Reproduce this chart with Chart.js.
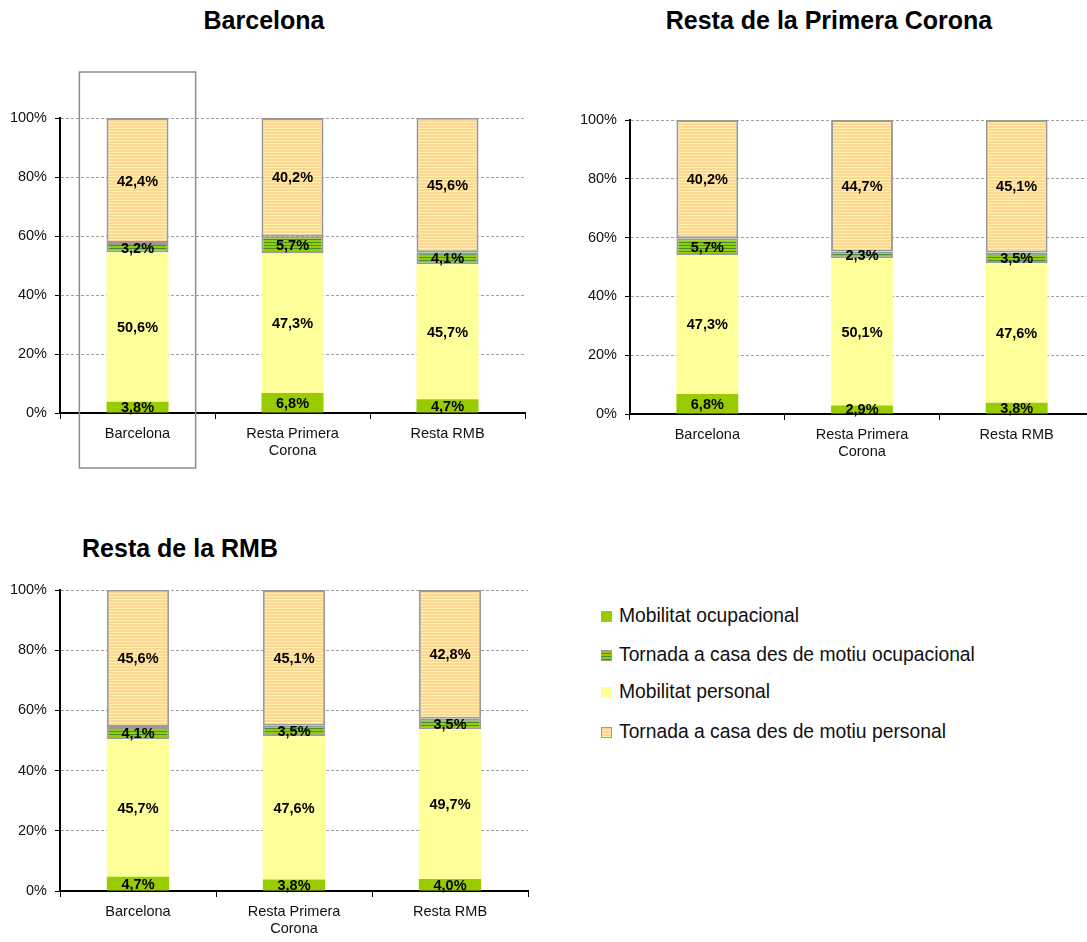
<!DOCTYPE html>
<html>
<head>
<meta charset="utf-8">
<script src="https://cdn.jsdelivr.net/npm/chart.js@4/dist/chart.umd.min.js"></script>
<style>
  html, body { margin:0; padding:0; width:1087px; height:942px; overflow:hidden; background:#fff; font-family:"Liberation Sans", Arial, sans-serif; }
  .box { position:absolute; }
  .title { position:absolute; font-weight:bold; font-size:25px; color:#000; white-space:nowrap; transform:translate(-50%,-50%); }
  .legend { position:absolute; left:601px; top:600px; font-size:19.3px; color:#111; }
  .legend .row { position:absolute; left:0; white-space:nowrap; display:flex; align-items:center; height:24px; }
  .legend .sw { width:11px; height:11px; margin-right:7px; box-sizing:border-box; }
</style>
</head>
<body>
<div class="title" style="left:264px; top:20px;">Barcelona</div>
<div class="title" style="left:829px; top:20px;">Resta de la Primera Corona</div>
<div class="title" style="left:180px; top:548px;">Resta de la RMB</div>

<div class="box" style="left:0px; top:0px; width:540px; height:480px;"><canvas id="c1"></canvas></div>
<div class="box" style="left:570px; top:0px; width:540px; height:480px;"><canvas id="c2"></canvas></div>
<div class="box" style="left:0px; top:480px; width:540px; height:462px;"><canvas id="c3"></canvas></div>

<div class="legend" id="legend"></div>

<script>
// ---- Data ----
const categories = ["Barcelona", ["Resta Primera", "Corona"], "Resta RMB"];
const seriesNames = ["Mobilitat ocupacional", "Tornada a casa des de motiu ocupacional", "Mobilitat personal", "Tornada a casa des de motiu personal"];
const yTicks = [0, 20, 40, 60, 80, 100];

// Chart 1: Barcelona
const bcnOcupacional = [3.8, 6.8, 4.7];
const bcnTornadaOcup = [3.2, 5.7, 4.1];
const bcnPersonal    = [50.6, 47.3, 45.7];
const bcnTornadaPers = [42.4, 40.2, 45.6];

// Chart 2: Resta de la Primera Corona
const rpcOcupacional = [6.8, 2.9, 3.8];
const rpcTornadaOcup = [5.7, 2.3, 3.5];
const rpcPersonal    = [47.3, 50.1, 47.6];
const rpcTornadaPers = [40.2, 44.7, 45.1];

// Chart 3: Resta de la RMB
const rmbOcupacional = [4.7, 3.8, 4.0];
const rmbTornadaOcup = [4.1, 3.5, 3.5];
const rmbPersonal    = [45.7, 47.6, 49.7];
const rmbTornadaPers = [45.6, 45.1, 42.8];

// ---- Styles ----
function stripePattern(rows) {
  const c = document.createElement('canvas');
  c.width = 4; c.height = rows.length;
  const x = c.getContext('2d');
  rows.forEach((col, i) => { x.fillStyle = col; x.fillRect(0, i, 4, 1); });
  return x.createPattern(c, 'repeat');
}
const colOcup = '#99CC00';
const colPers = '#FFFF99';
const patOcup = stripePattern(['#99CC00', '#99CC00', '#3E8E3A']);
const patPers = stripePattern(['#FFD699', '#FFD699', '#FFF3A0']);

const FONT = '"Liberation Sans", Arial, sans-serif';

const labelPlugin = {
  id: 'segLabels',
  afterDatasetsDraw(chart) {
    const ctx = chart.ctx;
    ctx.save();
    ctx.font = 'bold 14.5px ' + FONT;
    ctx.fillStyle = '#000';
    ctx.textAlign = 'center';
    ctx.textBaseline = 'middle';
    chart.data.datasets.forEach((ds, di) => {
      const meta = chart.getDatasetMeta(di);
      meta.data.forEach((el, i) => {
        const v = ds.data[i];
        const y = (el.y + el.base) / 2 + 1;
        ctx.fillText(v.toFixed(1).replace('.', ',') + '%', el.x, y);
      });
    });
    ctx.restore();
  }
};

const highlightPlugin = {
  id: 'highlight',
  afterDraw(chart, args, opts) {
    if (opts.index == null) return;
    const xs = chart.scales.x, ys = chart.scales.y;
    const cx = xs.getPixelForValue(opts.index);
    const w = (xs.right - xs.left) / chart.data.labels.length;
    const ctx = chart.ctx;
    ctx.save();
    ctx.strokeStyle = '#8c8c8c';
    ctx.lineWidth = 1.5;
    const top = ys.getPixelForValue(100) - 46;
    const bottom = ys.getPixelForValue(0) + 55;
    ctx.strokeRect(cx - w * 0.375, top, w * 0.75, bottom - top);
    ctx.restore();
  }
};

function makeChart(id, ocup, tornOcup, pers, tornPers, padding, highlightIndex) {
  const ctx = document.getElementById(id).getContext('2d');
  return new Chart(ctx, {
    type: 'bar',
    data: {
      labels: categories,
      datasets: [
        { label: seriesNames[0], data: ocup, backgroundColor: colOcup, borderWidth: 0 },
        { label: seriesNames[2], data: pers, backgroundColor: colPers, borderWidth: 0 },
        { label: seriesNames[1], data: tornOcup, backgroundColor: patOcup, borderColor: '#9a9a9a', borderWidth: 2, borderSkipped: false },
        { label: seriesNames[3], data: tornPers, backgroundColor: patPers, borderColor: '#9a9a9a', borderWidth: 2, borderSkipped: false }
      ]
    },
    options: {
      responsive: true,
      maintainAspectRatio: false,
      animation: false,
      layout: { padding: padding },
      datasets: { bar: { categoryPercentage: 1.0, barPercentage: 0.4 } },
      plugins: {
        legend: { display: false },
        tooltip: { enabled: false },
        title: { display: false },
        highlight: { index: highlightIndex }
      },
      scales: {
        x: {
          stacked: true,
          offset: true,
          grid: { display: true, drawOnChartArea: false, drawTicks: true, tickLength: 6, tickColor: '#000', offset: true },
          border: { display: true, color: '#000', width: 2 },
          ticks: { color: '#111', font: { family: FONT, size: 14.5 }, padding: 6, maxRotation: 0, autoSkip: false },
          afterFit(s) { s.height = 45; }
        },
        y: {
          stacked: true,
          min: 0, max: 100,
          afterBuildTicks(s) { s.ticks = yTicks.map(v => ({ value: v })); },
          grid: { color: '#a0a0a0', lineWidth: 1, drawTicks: true, tickLength: 5, tickColor: '#000', tickBorderDash: [] },
          border: { display: true, color: '#000', width: 2, dash: [3, 2] },
          ticks: { color: '#111', font: { family: FONT, size: 14.5 }, padding: 8, callback: v => v + '%' },
          afterFit(s) { s.width = 60; }
        }
      }
    },
    plugins: [labelPlugin, highlightPlugin]
  });
}

makeChart('c1', bcnOcupacional, bcnTornadaOcup, bcnPersonal, bcnTornadaPers, { top: 118, bottom: 22, left: 0, right: 15 }, 0);
makeChart('c2', rpcOcupacional, rpcTornadaOcup, rpcPersonal, rpcTornadaPers, { top: 120, bottom: 21, left: 0, right: 16 }, null);
makeChart('c3', rmbOcupacional, rmbTornadaOcup, rmbPersonal, rmbTornadaPers, { top: 110, bottom: 6, left: 0, right: 12 }, null);

// Legend (HTML)
const swatches = [
  'background:#99CC00;',
  'background:repeating-linear-gradient(to bottom,#99CC00 0,#99CC00 2px,#3E8E3A 2px,#3E8E3A 3px); border:1.5px solid #9a9a9a;',
  'background:#FFFF99;',
  'background:repeating-linear-gradient(to bottom,#FFD699 0,#FFD699 2px,#FFF3A0 2px,#FFF3A0 3px); border:1.5px solid #9a9a9a;'
];
const rowY = [4, 43, 80, 120];
const lg = document.getElementById('legend');
seriesNames.forEach((n, i) => {
  const r = document.createElement('div');
  r.className = 'row';
  r.style.top = rowY[i] + 'px';
  r.innerHTML = '<div class="sw" style="' + swatches[i] + '"></div><span>' + n + '</span>';
  lg.appendChild(r);
});
</script>
</body>
</html>
